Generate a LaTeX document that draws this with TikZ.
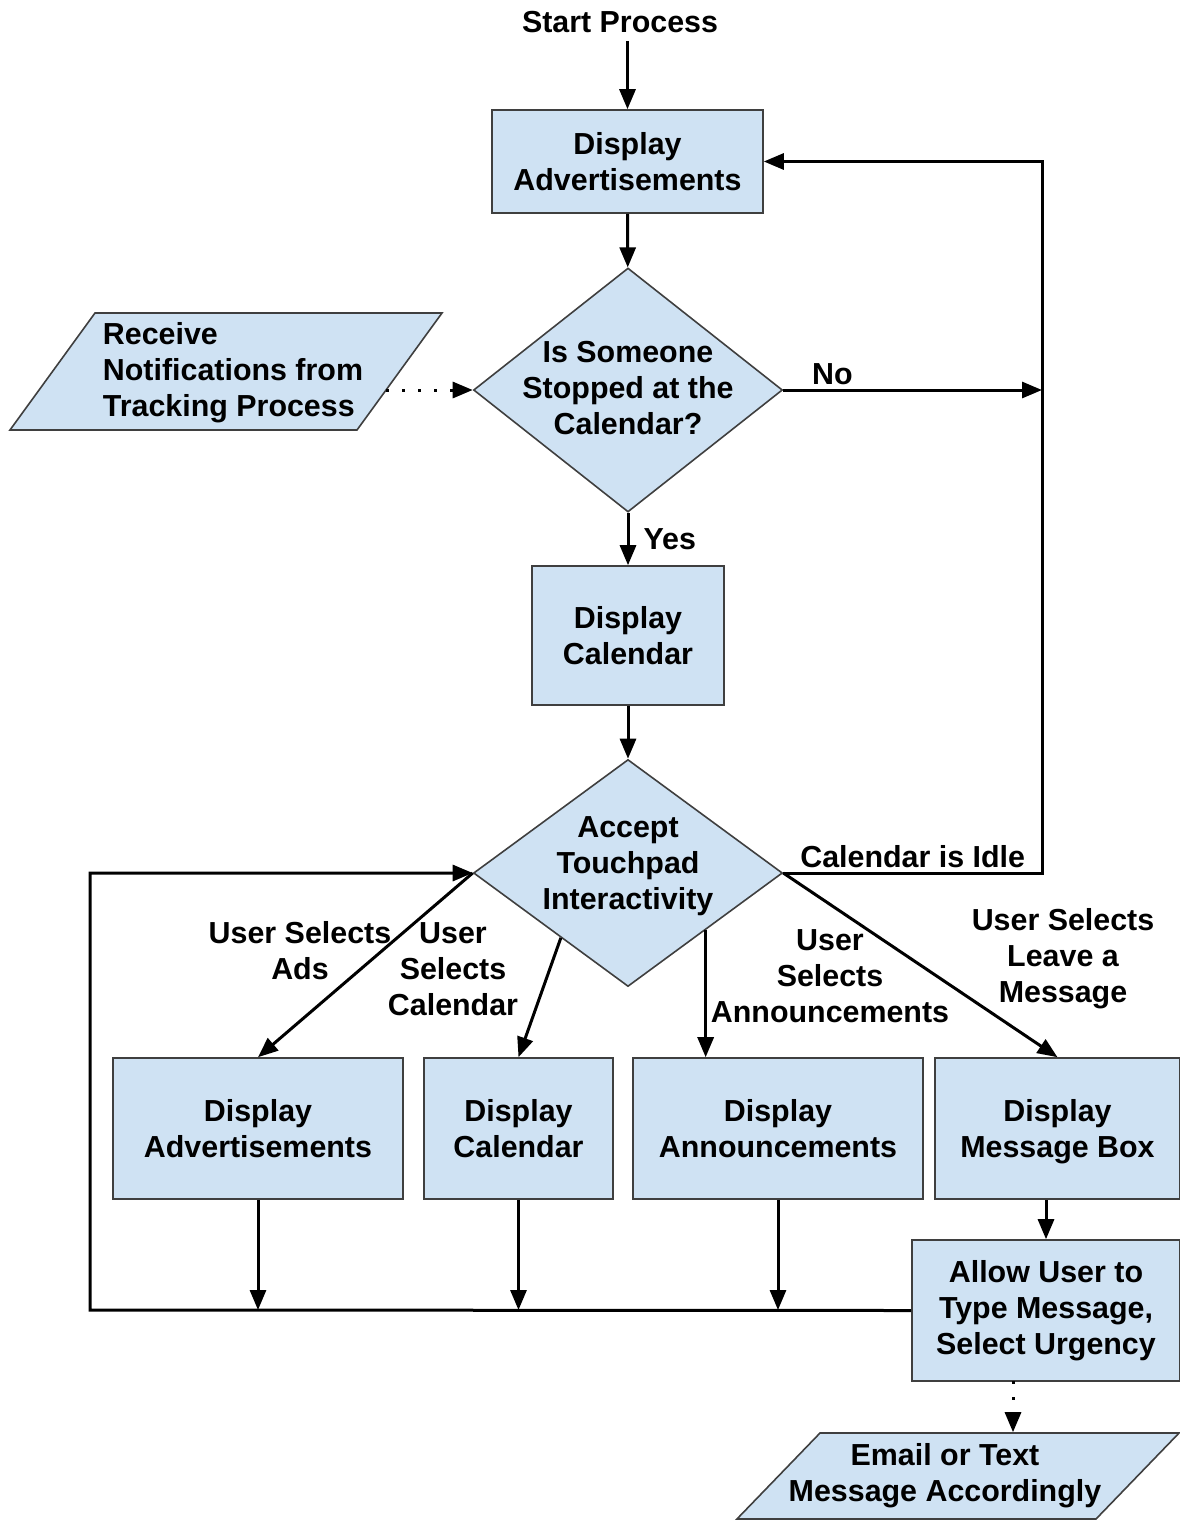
\documentclass[tikz,border=0pt]{standalone}
\usepackage{fontspec}
\setmainfont{Liberation Sans}
\usepackage{tikz}
\usepackage{xcolor}
\definecolor{box_fill}{HTML}{CFE2F3}
\definecolor{box_line}{HTML}{3F3F3F}
\newcommand{\flowfont}{\fontsize{30.4}{36}\selectfont\bfseries}
\usetikzlibrary{shapes.geometric,positioning,calc,arrows.meta}
\tikzset{PROCESS/.style={rectangle,draw=box_line,fill=box_fill,line width=1.6pt,align=center,font=\flowfont}}
\tikzset{DECISION/.style={diamond,draw=box_line,fill=box_fill,line width=1.6pt,inner sep=0pt}}
\tikzset{DATA/.style={trapezium,draw=box_line,fill=box_fill,line width=1.6pt}}
\tikzset{TEXT/.style={align=center,font=\flowfont,inner sep=2pt}}
\tikzset{ARROW/.style={line width=3pt,-{Triangle[length=20pt,width=16pt]}}}
\tikzset{DOTS/.style={ARROW,dash pattern=on 3pt off 13pt}}

\begin{document}
\begin{tikzpicture}[x=1pt,y=-1pt]
\useasboundingbox (0,0) rectangle (1179,1521);

\node[TEXT] (n_start) at (620,22) {Start Process};
\node[PROCESS, minimum width=271pt, minimum height=103pt] (n_ads) at (627.5,161.5) {Display\\Advertisements};
\node[DECISION, minimum width=309pt, minimum height=244pt,
    label={[TEXT,yshift=2pt]center:{Is Someone\\Stopped at the\\Calendar?}}] (n_stopped) at (628,390) {};
\node[DATA, trapezium left angle=54, trapezium right angle=126, inner xsep=131pt, inner ysep=58.5pt,
    label={[TEXT,align=left,xshift=7pt,yshift=-1pt]center:{Receive\\Notifications from\\Tracking Process}}] (n_notify) at (226,371.5) {};
\node[PROCESS, minimum width=192pt, minimum height=139pt] (n_cal) at (628,635.5) {Display\\Calendar};
\node[DECISION, minimum width=309pt, minimum height=227pt,
    label={[TEXT,yshift=7pt]center:{Accept\\Touchpad\\Interactivity}}] (n_touch) at (628,873) {};

\node[PROCESS, minimum width=290pt, minimum height=141pt] (n_ads2) at (258,1128.5) {Display\\Advertisements};
\node[PROCESS, minimum width=189pt, minimum height=141pt] (n_cal2) at (518.5,1128.5) {Display\\Calendar};
\node[PROCESS, minimum width=290pt, minimum height=141pt] (n_ann) at (778,1128.5) {Display\\Announcements};
\node[PROCESS, minimum width=245pt, minimum height=141pt, text depth=0pt] (n_msg) at (1057.5,1128.5) {Display\\Message Box};
\node[PROCESS, minimum width=268pt, minimum height=141pt] (n_type) at (1046,1310.5) {Allow User to\\Type Message,\\Select Urgency};
\node[DATA, trapezium left angle=46, trapezium right angle=134, inner xsep=138pt, inner ysep=43pt,
    label={[TEXT,xshift=-13pt]center:{Email or Text\\Message Accordingly}}] (n_email) at (958,1476) {};

% branch labels
\node[TEXT] (l_ads) at (300,951) {User Selects\\Ads};
\node[TEXT] (l_cal) at (453,969) {User\\Selects\\Calendar};
\node[TEXT] (l_ann) at (830,976) {User\\Selects\\Announcements};
\node[TEXT] (l_msg) at (1063,959) {User Selects\\Leave a\\Message};

\coordinate (c_loop) at (1042,390);
\coordinate (c_left) at (90,1310);
\coordinate (c_notify) at (386,390);
\coordinate (c_mail) at (1013,1381);

\draw[ARROW, shorten <=6pt] (n_start.south -| n_ads) -- (n_ads);
\draw[ARROW] (n_ads) -- (n_stopped);
\draw[DOTS] (c_notify) -- (n_stopped.west);
\draw[ARROW] (n_stopped.east) -- (c_loop) node[TEXT,pos=0.19,above=2pt]{No};
\draw[ARROW] (n_touch.east) -- node[TEXT,above=2pt]{Calendar is Idle} (n_touch.east -| c_loop) |- (n_ads.east);
\draw[ARROW] (n_stopped) -- node[TEXT,right=12pt]{Yes} (n_cal);
\draw[ARROW] (n_cal) -- (n_touch);

\draw[ARROW] (n_touch.west) -- (n_ads2.north);
\draw[ARROW] (n_touch.224) -- (n_cal2.north);
\draw[ARROW] (n_touch.south east) -- (n_touch.south east |- n_ann.north);
\draw[ARROW] (n_touch.east) -- (n_msg.north);

\draw[ARROW] (n_ads2) -- (n_ads2 |- c_left);
\draw[ARROW] (n_cal2) -- (n_cal2 |- c_left);
\draw[ARROW] (n_ann) -- (n_ann |- c_left);
\draw[ARROW] (n_type.west) -- (c_left) |- (n_touch.west);

\draw[ARROW] (n_msg.south -| n_type.north) -- (n_type.north);
\draw[DOTS] (c_mail) -- (c_mail |- n_email.north);

\end{tikzpicture}
\end{document}
